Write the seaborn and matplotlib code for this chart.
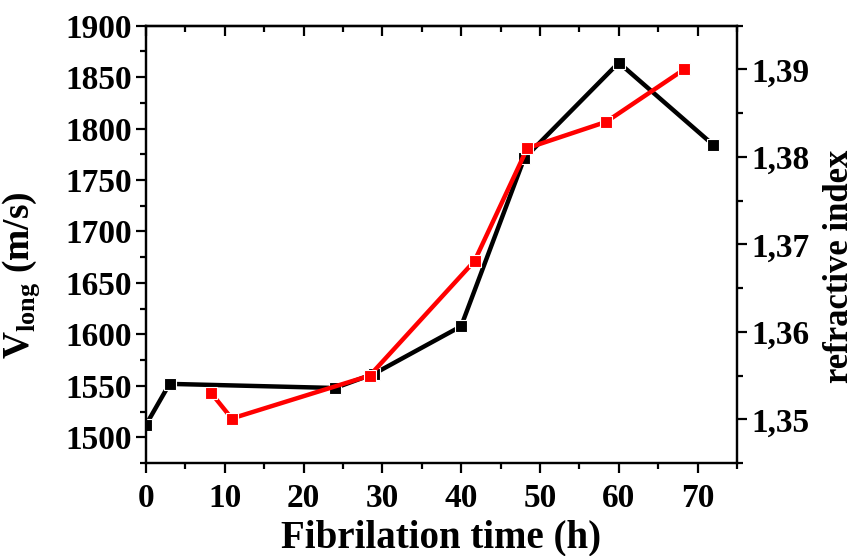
import matplotlib
matplotlib.use("Agg")
import matplotlib.pyplot as plt
import seaborn as sns
from matplotlib.ticker import MultipleLocator, FuncFormatter

# sound velocity (left axis)
time_v = [0, 3, 24, 29, 40, 48, 60, 72]
v_long = [1512, 1552, 1548, 1562, 1608, 1771, 1864, 1784]

# refractive index (right axis)
time_n = [8.3, 10.9, 28.4, 41.7, 48.4, 58.4, 68.3]
n_refr = [1.3530, 1.3501, 1.3550, 1.3681, 1.3810, 1.3840, 1.3900]

sns.set_style("ticks")
plt.rcParams['font.family'] = ['Liberation Serif', 'DejaVu Serif']
plt.rcParams['font.weight'] = 'bold'
plt.rcParams['mathtext.fontset'] = 'custom'
plt.rcParams['mathtext.rm'] = 'Liberation Serif:bold'
plt.rcParams['mathtext.bf'] = 'Liberation Serif:bold'
for k in ['text.color', 'axes.labelcolor', 'xtick.color', 'ytick.color', 'axes.edgecolor']:
    plt.rcParams[k] = 'black'

fig = plt.figure(figsize=(8.58, 5.56), dpi=100)
ax = fig.add_axes([0.170, 0.167, 0.689, 0.787])
ax2 = ax.twinx()

sns.lineplot(x=time_v, y=v_long, ax=ax, color='black', marker='s', markersize=8,
             markeredgecolor='white', markeredgewidth=0.8, linewidth=3.2, zorder=2)
sns.lineplot(x=time_n, y=n_refr, ax=ax2, color='red', marker='s', markersize=8,
             markeredgecolor='white', markeredgewidth=0.8, linewidth=3.2)

ax.set_xlim(0, 75)
ax.set_ylim(1475, 1900)
ax2.set_ylim(1.345, 1.395)

ax.xaxis.set_major_locator(MultipleLocator(10))
ax.xaxis.set_minor_locator(MultipleLocator(5))
ax.yaxis.set_major_locator(MultipleLocator(50))
ax.yaxis.set_minor_locator(MultipleLocator(25))
ax2.yaxis.set_major_locator(MultipleLocator(0.01))
ax2.yaxis.set_minor_locator(MultipleLocator(0.005))
ax2.yaxis.set_major_formatter(FuncFormatter(lambda v, p: f"{v:.2f}".replace('.', ',')))

for a in (ax, ax2):
    for s in a.spines.values():
        s.set_linewidth(1.6)
    a.tick_params(which='major', length=7, width=1.6, labelsize=24, direction='out', pad=3)
    a.tick_params(which='minor', length=4, width=1.6, direction='out')
ax.tick_params(axis='x', which='major', pad=7)

# top axis: ticks pointing inward, no labels
top = ax.secondary_xaxis('top')
top.xaxis.set_major_locator(MultipleLocator(10))
top.xaxis.set_minor_locator(MultipleLocator(5))
top.tick_params(which='major', length=7, width=1.6, direction='in', labeltop=False)
top.tick_params(which='minor', length=4, width=1.6, direction='in')
top.spines['top'].set_linewidth(1.6)

ax.set_xlabel('Fibrilation time (h)', fontsize=28, fontweight='bold', labelpad=4)
ax.set_ylabel(r'V$_{\rm long}$ (m/s)', fontsize=27, fontweight='bold')
ax2.set_ylabel('refractive index', fontsize=25, fontweight='bold')
ax.yaxis.set_label_coords(-0.176, 0.43)
ax2.yaxis.set_label_coords(1.146, 0.45)

for lab in ax.get_xticklabels() + ax.get_yticklabels() + ax2.get_yticklabels():
    lab.set_fontweight('bold')

fig.savefig('out.png', dpi=100)
